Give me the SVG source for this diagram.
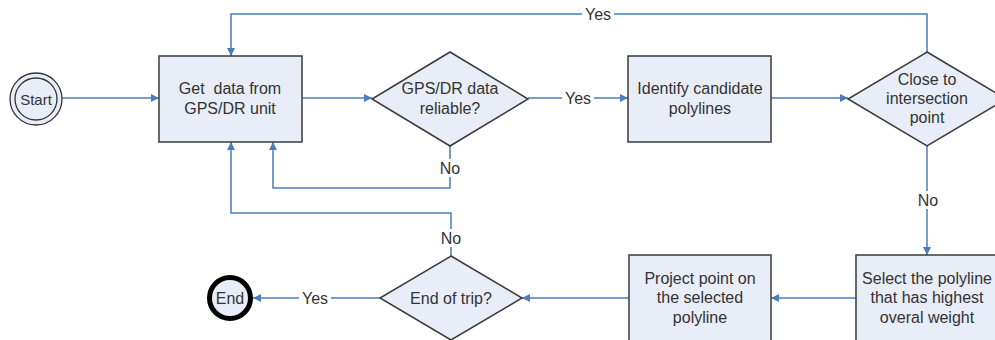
<svg xmlns="http://www.w3.org/2000/svg" width="995" height="340" viewBox="0 0 995 340">
<defs>
<marker id="arr" viewBox="0 0 10 10" refX="10" refY="5" markerWidth="8" markerHeight="8" markerUnits="userSpaceOnUse" orient="auto"><path d="M0,0 L10,5 L0,10 z" fill="#4a7ebb"/></marker>
<style>
.box{fill:#e8edf7;stroke:#3a3a3a;stroke-width:1.5}
.t{font-family:"Liberation Sans",Arial,sans-serif;font-size:16px;fill:#333;text-anchor:middle}
.s{font-family:"Liberation Sans",Arial,sans-serif;font-size:15px;fill:#333;text-anchor:middle}
.c{fill:none;stroke:#4a7ebb;stroke-width:1.5}
.lbl{font-family:"Liberation Sans",Arial,sans-serif;font-size:16px;fill:#333;text-anchor:middle}
.bg{fill:#fff}
</style>
</defs>
<rect width="995" height="340" fill="#fff"/>
<g id="connectors">
<path class="c" d="M62,98 H159" marker-end="url(#arr)"/>
<path class="c" d="M302,98 H372" marker-end="url(#arr)"/>
<path class="c" d="M528,98 H628" marker-end="url(#arr)"/>
<path class="c" d="M771,98 H848" marker-end="url(#arr)"/>
<path class="c" d="M927,52 V14 H231 V56" marker-end="url(#arr)"/>
<path class="c" d="M450,146 V188 H273 V142" marker-end="url(#arr)"/>
<path class="c" d="M927,146 V255" marker-end="url(#arr)"/>
<path class="c" d="M856,298 H771" marker-end="url(#arr)"/>
<path class="c" d="M629,298 H522" marker-end="url(#arr)"/>
<path class="c" d="M451,256 V213 H231 V142" marker-end="url(#arr)"/>
<path class="c" d="M380,298 H253" marker-end="url(#arr)"/>
<rect class="bg" x="582" y="5" width="32" height="18"/>
<text class="lbl" x="598" y="20">Yes</text>
<rect class="bg" x="562" y="89" width="32" height="18"/>
<text class="lbl" x="578" y="104">Yes</text>
<rect class="bg" x="438" y="159" width="24" height="18"/>
<text class="lbl" x="450" y="174">No</text>
<rect class="bg" x="916" y="191" width="24" height="18"/>
<text class="lbl" x="928" y="206">No</text>
<rect class="bg" x="439" y="229" width="24" height="18"/>
<text class="lbl" x="451" y="244">No</text>
<rect class="bg" x="299" y="289" width="32" height="18"/>
<text class="lbl" x="315" y="304">Yes</text>
</g>
<g id="start">
<circle cx="36" cy="99" r="26" fill="#e8edf7" stroke="#333" stroke-width="1.3"/>
<circle cx="36" cy="99" r="21" fill="none" stroke="#333" stroke-width="1.3"/>
<text class="s" x="36" y="104.5">Start</text>
</g>
<g id="getdata">
<rect class="box" x="159" y="56" width="143" height="86"/>
<text class="t" x="230" y="94" xml:space="preserve">Get  data from</text>
<text class="t" x="230" y="114">GPS/DR unit</text>
</g>
<g id="reliable">
<polygon class="box" points="450,52 528,99 450,146 372,99"/>
<text class="t" x="450" y="94">GPS/DR data</text>
<text class="t" x="450" y="114">reliable?</text>
</g>
<g id="identify">
<rect class="box" x="628" y="56" width="143" height="86"/>
<text class="t" x="700" y="94">Identify candidate</text>
<text class="t" x="700" y="114">polylines</text>
</g>
<g id="close">
<polygon class="box" points="927,52 1006,99 927,146 848,99"/>
<text class="t" x="927" y="85">Close to</text>
<text class="t" x="927" y="104">intersection</text>
<text class="t" x="927" y="123">point</text>
</g>
<g id="select">
<rect class="box" x="856" y="255" width="145" height="100"/>
<text class="t" x="927" y="284">Select the polyline</text>
<text class="t" x="927" y="303">that has highest</text>
<text class="t" x="927" y="323">overal weight</text>
</g>
<g id="project">
<rect class="box" x="629" y="255" width="142" height="100"/>
<text class="t" x="700" y="284">Project point on</text>
<text class="t" x="700" y="303">the selected</text>
<text class="t" x="700" y="323">polyline</text>
</g>
<g id="endtrip">
<polygon class="box" points="451,256 522,298 451,340 380,298"/>
<text class="t" x="451" y="304">End of trip?</text>
</g>
<g id="end">
<circle cx="230" cy="298" r="20.5" fill="#e8edf7" stroke="#000" stroke-width="5"/>
<text class="t" x="230" y="304">End</text>
</g>
</svg>
